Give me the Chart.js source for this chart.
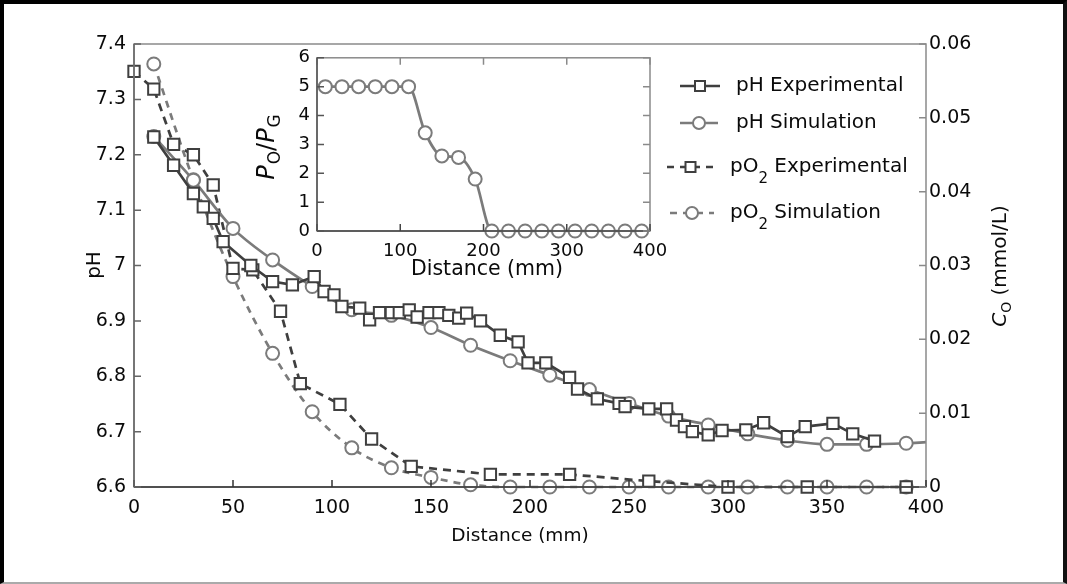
<!DOCTYPE html>
<html>
<head>
<meta charset="utf-8">
<title>pH and oxygen along the channel</title>
<script src="https://cdn.jsdelivr.net/npm/chart.js@4.4.0/dist/chart.umd.min.js"></script>
<style>
  body { margin: 0; background: #fff; }
  #wrap { position: relative; width: 1067px; height: 584px; overflow: hidden; background: #fff; }
  #main { position: absolute; left: 0; top: 0; }
  #inset { position: absolute; left: 250px; top: 40px; }
  #frame {
    position: absolute; left: 0; top: 0; width: 1067px; height: 584px; box-sizing: border-box;
    border-top: 4px solid #000; border-left: 4px solid #000; border-right: 4px solid #111; border-bottom: 2px solid #aaa;
    pointer-events: none;
  }
</style>
</head>
<body>
<div id="wrap">
  <canvas id="main" width="1067" height="584"></canvas>
  <canvas id="inset" width="430" height="245"></canvas>
  <div id="frame"></div>
</div>
<script>
// distance ticks (mm)
const distTicks = [0, 50, 100, 150, 200, 250, 300, 350, 400];
const pHTicks = [6.6, 6.7, 6.8, 6.9, 7.0, 7.1, 7.2, 7.3, 7.4];
const pHTickLabels = ['6.6', '6.7', '6.8', '6.9', '7', '7.1', '7.2', '7.3', '7.4'];
const coTicks = [0, 0.01, 0.02, 0.03, 0.04, 0.05, 0.06];
const coTickLabels = ['0', '0.01', '0.02', '0.03', '0.04', '0.05', '0.06'];
const insetDistTicks = [0, 100, 200, 300, 400];
const ratioTicks = [0, 1, 2, 3, 4, 5, 6];

// measured pH
const phExpDist = [10, 20, 30, 35, 40, 45, 59, 70, 80, 91, 96, 101, 105, 114, 119, 124, 130, 134, 139, 143, 149,
  154, 159, 164, 168, 175, 185, 194, 199, 208, 220, 224, 234, 245, 248, 260, 269, 274, 278, 282, 290, 297, 309,
  318, 330, 339, 353, 363, 374];
const phExpValue = [7.232, 7.181, 7.13, 7.106, 7.085, 7.043, 7.0, 6.971, 6.965, 6.98, 6.953, 6.947, 6.926, 6.923,
  6.902, 6.915, 6.915, 6.915, 6.92, 6.907, 6.915, 6.915, 6.91, 6.905, 6.914, 6.9, 6.874, 6.862, 6.824, 6.824,
  6.798, 6.777, 6.759, 6.751, 6.745, 6.741, 6.741, 6.721, 6.709, 6.7, 6.694, 6.702, 6.703, 6.716, 6.691, 6.709,
  6.715, 6.696, 6.683];

// simulated pH
const phSimDist = [10, 30, 50, 70, 90, 110, 130, 150, 170, 190, 210, 230, 250, 270, 290, 310, 330, 350, 370, 390, 400];
const phSimValue = [7.233, 7.154, 7.067, 7.01, 6.962, 6.92, 6.91, 6.888, 6.856, 6.828, 6.802, 6.776, 6.751,
  6.728, 6.712, 6.696, 6.684, 6.677, 6.677, 6.679, 6.681];

// measured oxygen concentration (mmol/L)
const o2ExpDist = [0, 10, 20, 30, 40, 50, 60, 74, 84, 104, 120, 140, 180, 220, 260, 300, 340, 390];
const o2ExpValue = [0.0563, 0.0539, 0.0464, 0.045, 0.0409, 0.0296, 0.0294, 0.0238, 0.014, 0.0112, 0.0065,
  0.0028, 0.0017, 0.0017, 0.0008, 0, 0, 0];

// simulated oxygen concentration (mmol/L)
const o2SimDist = [10, 30, 50, 70, 90, 110, 130, 150, 170, 190, 210, 230, 250, 270, 290, 310, 330, 350, 370, 390];
const o2SimValue = [0.0573, 0.0416, 0.0285, 0.0181, 0.0102, 0.0053, 0.0026, 0.0013, 0.0003, 0, 0, 0, 0, 0, 0,
  0, 0, 0, 0, 0];

// inset: P_O / P_G ratio
const ratioDist = [10, 30, 50, 70, 90, 110, 130, 150, 170, 190, 210, 230, 250, 270, 290, 310, 330, 350, 370, 390];
const ratioValue = [5, 5, 5, 5, 5, 5, 3.4, 2.6, 2.55, 1.8, 0, 0, 0, 0, 0, 0, 0, 0, 0, 0];

const FONT = '"DejaVu Sans", "Liberation Sans", Arial, sans-serif';
const DARK = '#3f3f3f';
const LIGHT = '#7b7b7b';
const TEXT = '#0a0a0a';

function pts(xs, ys) {
  return xs.map((x, i) => ({ x: x, y: ys[i] }));
}

// draw text made of pieces (italic letters, subscripts), centred at cx,cy
function drawRich(ctx, parts, cx, cy, angle) {
  ctx.save();
  ctx.translate(cx, cy);
  ctx.rotate(angle || 0);
  ctx.textBaseline = 'middle';
  ctx.textAlign = 'left';
  let total = 0;
  parts.forEach(p => {
    ctx.font = p.font;
    p.w = ctx.measureText(p.t).width + (p.gap || 0);
    total += p.w;
  });
  let x = -total / 2;
  parts.forEach(p => {
    ctx.font = p.font;
    ctx.fillStyle = TEXT;
    ctx.fillText(p.t, x, p.dy || 0);
    x += p.w;
  });
  ctx.restore();
}

function richLeft(ctx, parts, x, y) {
  ctx.save();
  ctx.textBaseline = 'middle';
  ctx.textAlign = 'left';
  parts.forEach(p => {
    ctx.font = p.font;
    ctx.fillStyle = TEXT;
    ctx.fillText(p.t, x, y + (p.dy || 0));
    x += ctx.measureText(p.t).width;
  });
  ctx.restore();
}

// box round the plot area with short inward ticks
function drawBox(chart, sides) {
  const ctx = chart.ctx;
  const a = chart.chartArea;
  ctx.save();
  ctx.lineWidth = 1.5;
  ctx.strokeStyle = '#8a8a8a';
  ctx.strokeRect(a.left, a.top, a.right - a.left, a.bottom - a.top);
  sides.forEach(s => {
    ctx.strokeStyle = s.color || '#8a8a8a';
    if (s.line) {
      ctx.beginPath();
      if (s.side === 'bottom') { ctx.moveTo(a.left, a.bottom); ctx.lineTo(a.right, a.bottom); }
      if (s.side === 'left') { ctx.moveTo(a.left, a.top); ctx.lineTo(a.left, a.bottom); }
      ctx.stroke();
    }
    const scale = chart.scales[s.scale];
    ctx.beginPath();
    scale.ticks.forEach(t => {
      const p = scale.getPixelForValue(t.value);
      if (s.side === 'bottom') { ctx.moveTo(p, a.bottom); ctx.lineTo(p, a.bottom - 7); }
      if (s.side === 'top') { ctx.moveTo(p, a.top); ctx.lineTo(p, a.top + 7); }
      if (s.side === 'left') { ctx.moveTo(a.left, p); ctx.lineTo(a.left + 7, p); }
      if (s.side === 'right') { ctx.moveTo(a.right, p); ctx.lineTo(a.right - 7, p); }
    });
    ctx.stroke();
  });
  ctx.restore();
}

function legendRow(ctx, y, x0, x1, color, dash, style, parts, tx) {
  ctx.save();
  ctx.strokeStyle = color;
  ctx.lineWidth = 2.7;
  ctx.setLineDash(dash);
  ctx.beginPath();
  ctx.moveTo(x0, y);
  ctx.lineTo(x1, y);
  ctx.stroke();
  ctx.setLineDash([]);
  ctx.lineWidth = 2;
  ctx.fillStyle = '#fff';
  const mx = (x0 + x1) / 2;
  ctx.beginPath();
  if (style === 'rect') ctx.rect(mx - 5, y - 5, 10, 10);
  else ctx.arc(mx, y, 6, 0, Math.PI * 2);
  ctx.fill();
  ctx.stroke();
  ctx.restore();
  richLeft(ctx, parts, tx, y);
}

const legendFont = '20px ' + FONT;
const legendSub = '15px ' + FONT;

const mainDecor = {
  id: 'mainDecor',
  afterDraw(chart) {
    const ctx = chart.ctx;
    drawBox(chart, [
      { scale: 'x', side: 'bottom', color: '#333', line: true },
      { scale: 'y', side: 'left', color: '#666', line: true },
      { scale: 'y2', side: 'right' }
    ]);
    drawRich(ctx, [{ t: 'pH', font: '20px ' + FONT }], 95, 265, -Math.PI / 2);
    drawRich(ctx, [{ t: 'Distance (mm)', font: '18.5px ' + FONT }], 520, 536, 0);
    drawRich(ctx, [
      { t: 'C', font: 'italic 20px ' + FONT },
      { t: 'O', font: '14px ' + FONT, dy: 6 },
      { t: ' (mmol/L)', font: '20px ' + FONT }
    ], 1001, 266, -Math.PI / 2);

    legendRow(ctx, 86, 680, 720, DARK, [], 'rect', [{ t: 'pH Experimental', font: legendFont }], 736);
    legendRow(ctx, 123, 680, 718, LIGHT, [], 'circle', [{ t: 'pH Simulation', font: legendFont }], 736);
    legendRow(ctx, 167, 667, 714, DARK, [7, 6], 'rect',
      [{ t: 'pO', font: legendFont }, { t: '2', font: legendSub, dy: 12 }, { t: ' Experimental', font: legendFont }], 730);
    legendRow(ctx, 213, 670, 714, LIGHT, [7, 6], 'circle',
      [{ t: 'pO', font: legendFont }, { t: '2', font: legendSub, dy: 12 }, { t: ' Simulation', font: legendFont }], 730);
  }
};

const common = { clip: false, pointBorderWidth: 2, pointBackgroundColor: '#fff', borderWidth: 2.7 };
const tickFont = { family: FONT, size: 19 };
const noGrid = { display: false, drawTicks: false };

new Chart(document.getElementById('main'), {
  type: 'line',
  data: {
    datasets: [
      Object.assign({
        label: 'pH Experimental', data: pts(phExpDist, phExpValue), yAxisID: 'y',
        borderColor: DARK, pointBorderColor: DARK, pointStyle: 'rect', pointRadius: 8, tension: 0
      }, common),
      Object.assign({
        label: 'pH Simulation', data: pts(phSimDist, phSimValue), yAxisID: 'y',
        borderColor: LIGHT, pointBorderColor: LIGHT, pointStyle: 'circle', cubicInterpolationMode: 'monotone',
        pointRadius: c => (c.raw && c.raw.x > 395 ? 0 : 6.5)
      }, common),
      Object.assign({
        label: 'pO2 Experimental', data: pts(o2ExpDist, o2ExpValue), yAxisID: 'y2',
        borderColor: DARK, pointBorderColor: DARK, pointStyle: 'rect', pointRadius: 8, borderDash: [8, 6], tension: 0
      }, common),
      Object.assign({
        label: 'pO2 Simulation', data: pts(o2SimDist, o2SimValue), yAxisID: 'y2',
        borderColor: LIGHT, pointBorderColor: LIGHT, pointStyle: 'circle', pointRadius: 6.5,
        borderDash: [7, 6], cubicInterpolationMode: 'monotone'
      }, common)
    ]
  },
  options: {
    responsive: false,
    animation: false,
    layout: { padding: { top: 44, left: 0, right: 0, bottom: 0 } },
    plugins: { legend: { display: false }, tooltip: { enabled: false } },
    scales: {
      x: {
        type: 'linear', min: 0, max: 400,
        afterBuildTicks: s => { s.ticks = distTicks.map(v => ({ value: v })); },
        afterFit: s => { s.height = 97; },
        grid: noGrid, border: { display: false },
        ticks: { color: TEXT, padding: 10, maxRotation: 0, font: tickFont }
      },
      y: {
        position: 'left', min: 6.6, max: 7.4,
        afterBuildTicks: s => { s.ticks = pHTicks.map(v => ({ value: v })); },
        afterFit: s => { s.width = 134; },
        grid: noGrid, border: { display: false },
        ticks: { color: TEXT, padding: 8, font: tickFont, callback: (v, i) => pHTickLabels[i] }
      },
      y2: {
        position: 'right', min: 0, max: 0.06,
        afterBuildTicks: s => { s.ticks = coTicks.map(v => ({ value: v })); },
        afterFit: s => { s.width = 141; },
        grid: noGrid, border: { display: false },
        ticks: { color: TEXT, padding: 3, font: tickFont, callback: (v, i) => coTickLabels[i] }
      }
    }
  },
  plugins: [mainDecor]
});

const insetDecor = {
  id: 'insetDecor',
  beforeDraw(chart) {
    const a = chart.chartArea;
    chart.ctx.save();
    chart.ctx.fillStyle = '#fff';
    chart.ctx.fillRect(a.left, a.top, a.right - a.left, a.bottom - a.top);
    chart.ctx.restore();
  },
  afterDraw(chart) {
    const ctx = chart.ctx;
    drawBox(chart, [
      { scale: 'x', side: 'bottom', color: '#444', line: true },
      { scale: 'x', side: 'top' },
      { scale: 'y', side: 'left', color: '#555', line: true },
      { scale: 'y', side: 'right' }
    ]);
    drawRich(ctx, [{ t: 'Distance (mm)', font: '20.5px ' + FONT }], 237, 230, 0);
    drawRich(ctx, [
      { t: 'P', font: 'italic 24px ' + FONT, gap: 1 },
      { t: 'O', font: '17px ' + FONT, dy: 8 },
      { t: '/', font: '24px ' + FONT },
      { t: 'P', font: 'italic 24px ' + FONT, gap: 1 },
      { t: 'G', font: '17px ' + FONT, dy: 8 }
    ], 18, 107, -Math.PI / 2);
  }
};

new Chart(document.getElementById('inset'), {
  type: 'line',
  data: {
    datasets: [{
      label: 'PO/PG', data: pts(ratioDist, ratioValue),
      borderColor: LIGHT, borderWidth: 2.7, pointStyle: 'circle', pointRadius: 6.5,
      pointBorderColor: LIGHT, pointBorderWidth: 2, pointBackgroundColor: '#fff',
      cubicInterpolationMode: 'monotone', clip: false
    }]
  },
  options: {
    responsive: false,
    animation: false,
    layout: { padding: { top: 15, right: 30, left: 0, bottom: 0 } },
    plugins: { legend: { display: false }, tooltip: { enabled: false } },
    scales: {
      x: {
        type: 'linear', min: 0, max: 400,
        afterBuildTicks: s => { s.ticks = insetDistTicks.map(v => ({ value: v })); },
        afterFit: s => { s.height = 54; },
        grid: noGrid, border: { display: false },
        ticks: { color: TEXT, padding: 10, maxRotation: 0, font: { family: FONT, size: 18 } }
      },
      y: {
        min: 0, max: 6,
        afterBuildTicks: s => { s.ticks = ratioTicks.map(v => ({ value: v })); },
        afterFit: s => { s.width = 67; },
        grid: noGrid, border: { display: false },
        ticks: { color: TEXT, padding: 7, font: { family: FONT, size: 18 } }
      }
    }
  },
  plugins: [insetDecor]
});
</script>
</body>
</html>
